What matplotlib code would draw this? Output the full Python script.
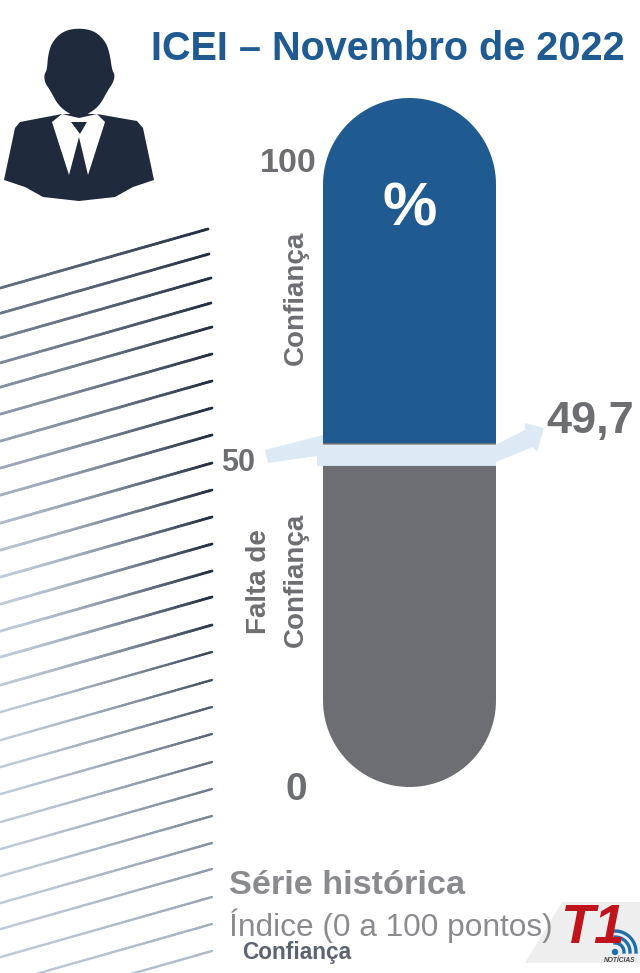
import numpy as np
import matplotlib
matplotlib.use("Agg")
import matplotlib.pyplot as plt
from matplotlib.collections import LineCollection
from matplotlib.colors import to_rgb
from matplotlib.path import Path
from matplotlib.patches import Polygon

title = "ICEI – Novembro de 2022"
scale_ticks = [100, 50, 0]
index_label = "49,7"
index_value = 49.7
band_bottom = 46.6
blue_part = [50, 100]
grey_part = [0, 50]

# hatch lines: right end of every line, in pixels of the image
line_ends_y = [229, 254, 278, 303, 327, 354, 381, 408, 435, 463, 490, 517, 544, 571, 597,
               625, 652, 680, 707, 734, 762, 789, 816, 843, 869, 897, 924, 951]
line_ends_x = [208, 209, 211, 211] + [212] * 24

head = [(79, 28), (95, 31), (106, 42), (110, 55), (112, 70), (115, 75), (113, 83), (108, 90),
        (100, 105), (90, 113), (79, 118), (68, 113), (58, 105), (50, 90), (45, 83), (44, 75),
        (47, 70), (48, 55), (52, 42), (63, 31)]
jacket = [(4, 180), (15, 128), (20, 122), (62, 114), (97, 114), (137, 121), (143, 128), (154, 180),
          (133, 187), (115, 197), (79, 201), (43, 197), (25, 187)]
shirt = [(52, 122), (62, 114), (79, 118), (97, 114), (105, 122), (88, 175), (79, 137), (69, 175)]
knot = [(71, 122), (87, 122), (80, 134)]

BLUE = "#1f5a91"
GREY = "#6d6e71"
LIGHT = "#dee9f6"
DARK = "#1f2a3c"
SOFT = "#8a8b8e"


def smooth(pts, n=3):
    pts = np.array(pts, float)
    for _ in range(n):
        nxt = np.roll(pts, -1, axis=0)
        pts = np.column_stack([0.75 * pts + 0.25 * nxt, 0.25 * pts + 0.75 * nxt]).reshape(-1, 2)
    return pts


fig = plt.figure(figsize=(6.4, 9.73), dpi=100)
plt.rcParams["font.family"] = ["Liberation Sans", "DejaVu Sans"]
ax = fig.add_axes([0, 0, 1, 1])
ax.set_xlim(0, 640)
ax.set_ylim(973, 0)
ax.axis("off")

# person
ax.add_patch(Polygon(jacket, color=DARK, lw=0))
ax.add_patch(Polygon(shirt, color="white", lw=0))
ax.add_patch(Polygon(smooth(head), color=DARK, lw=0))
ax.add_patch(Polygon(knot, color=DARK, lw=0))

# hatch lines
light_c = np.array(to_rgb("#c8d3e2"))
dark_c = np.array(to_rgb(DARK))
n_rows = len(line_ends_y)
for row, (xe, ye) in enumerate(zip(line_ends_x, line_ends_y)):
    xs = np.linspace(0, xe, 70)
    ys = ye + (xe - xs) * 0.284
    pts = np.column_stack([xs, ys])
    segs = np.stack([pts[:-1], pts[1:]], axis=1)
    right = 1.0 if row < 14 else 1.0 - 0.9 * (row - 14) / (n_rows - 14)
    left = max(0.05, 0.6 - 0.55 * row / 11)
    d = left + (right - left) * (xs[:-1] / xe) ** 1.6
    cols = light_c + (dark_c - light_c) * d[:, None]
    lw = 2.0 if row < 16 else 1.7
    ax.add_collection(LineCollection(segs, colors=cols, linewidths=lw, capstyle="round"))

# pill, 0 to 100 on its own axis
px_left, px_right, px_top, px_bottom = 323, 496, 98, 787
ax_pill = fig.add_axes([px_left / 640, 1 - px_bottom / 973, (px_right - px_left) / 640,
                        (px_bottom - px_top) / 973])
ax_pill.set_xlim(0, 1)
ax_pill.set_ylim(0, 100)
ax_pill.axis("off")
bars_b = ax_pill.bar(0, blue_part[1] - blue_part[0], bottom=blue_part[0], width=1, align="edge", color=BLUE)
bars_g = ax_pill.bar(0, grey_part[1] - grey_part[0], bottom=grey_part[0], width=1, align="edge", color=GREY)
r = (px_right - px_left) / 2
t = np.linspace(0, np.pi, 60)
cx = (px_left + px_right) / 2
outline = np.vstack([
    np.column_stack([cx - r * np.cos(t), px_top + r - r * np.sin(t)]),
    np.column_stack([cx + r * np.cos(t), px_bottom - r + r * np.sin(t)]),
])
clip = Path(np.vstack([outline, outline[0]]), closed=True)
for b in list(bars_b) + list(bars_g):
    b.set_clip_path(clip, ax.transData)
ax_pill.text(0.5, 83.7, "%", color="white", fontsize=44, fontweight="bold", ha="center", va="center")

# light band and arrow, on top of the pill
ax_top = fig.add_axes([0, 0, 1, 1], sharex=ax, sharey=ax)
ax_top.axis("off")
to_px = lambda v: px_bottom - v / 100 * (px_bottom - px_top)
band_t, band_b = to_px(index_value), to_px(band_bottom)
ax_top.add_patch(Polygon([(265, 450), (323, 435), (323, band_t), (496, band_t), (525, 430), (525, 423),
                          (544, 428), (537, 452), (533, 447), (496, band_b - 4), (496, band_b),
                          (317, band_b), (317, 456), (268, 463)], color=LIGHT, lw=0))

# texts
ax_top.text(151, 49, title, color=BLUE, fontsize=28.5, fontweight="bold", va="center", ha="left")
tick_style = dict(color=GREY, fontweight="bold", va="center")
ax_top.text(317, 164, str(scale_ticks[0]), fontsize=24.5, ha="right", **tick_style)
ax_top.text(221, 463, str(scale_ticks[1]), fontsize=22, ha="left", **tick_style)
ax_top.text(296, 790, str(scale_ticks[2]), fontsize=28, ha="center", **tick_style)
ax_top.text(546, 422, index_label, fontsize=32.5, ha="left", **tick_style)
ax_top.text(296, 298, "Confiança", fontsize=20, rotation=90, ha="center", **tick_style)
ax_top.text(259, 582, "Falta de", fontsize=20, rotation=90, ha="center", **tick_style)
ax_top.text(296, 580, "Confiança", fontsize=20, rotation=90, ha="center", **tick_style)
ax_top.text(229, 886, "Série histórica", color=SOFT, fontsize=24.7, fontweight="bold", va="center")
ax_top.text(229, 926, "Índice (0 a 100 pontos)", color=SOFT, fontsize=22.8, va="center")
ax_top.text(242, 953, "Confiança", color="#5c6470", fontsize=16.3, fontweight="bold", va="center")

# T1 logo in the corner
ax_top.add_patch(Polygon([(562, 902), (640, 902), (640, 963), (525, 963)], color="#eeeeee", lw=0))
ax_top.text(592, 929, "T1", color="#c0141c", fontsize=40, fontweight="bold", style="italic",
            ha="center", va="center")
ax_top.add_patch(plt.Circle((615, 952), 3.2, color="#1f6fa8", lw=0))
for rad in [9, 15, 21]:
    a = np.linspace(0, np.pi / 2, 30)
    ax_top.plot(615 + rad * np.cos(a), 952 - rad * np.sin(a), color="#1f6fa8", lw=2.4)
ax_top.text(620, 960, "NOTÍCIAS", color="#444444", fontsize=4.8, fontweight="bold", style="italic",
            ha="center", va="center")

fig.savefig("out.png", dpi=100)
